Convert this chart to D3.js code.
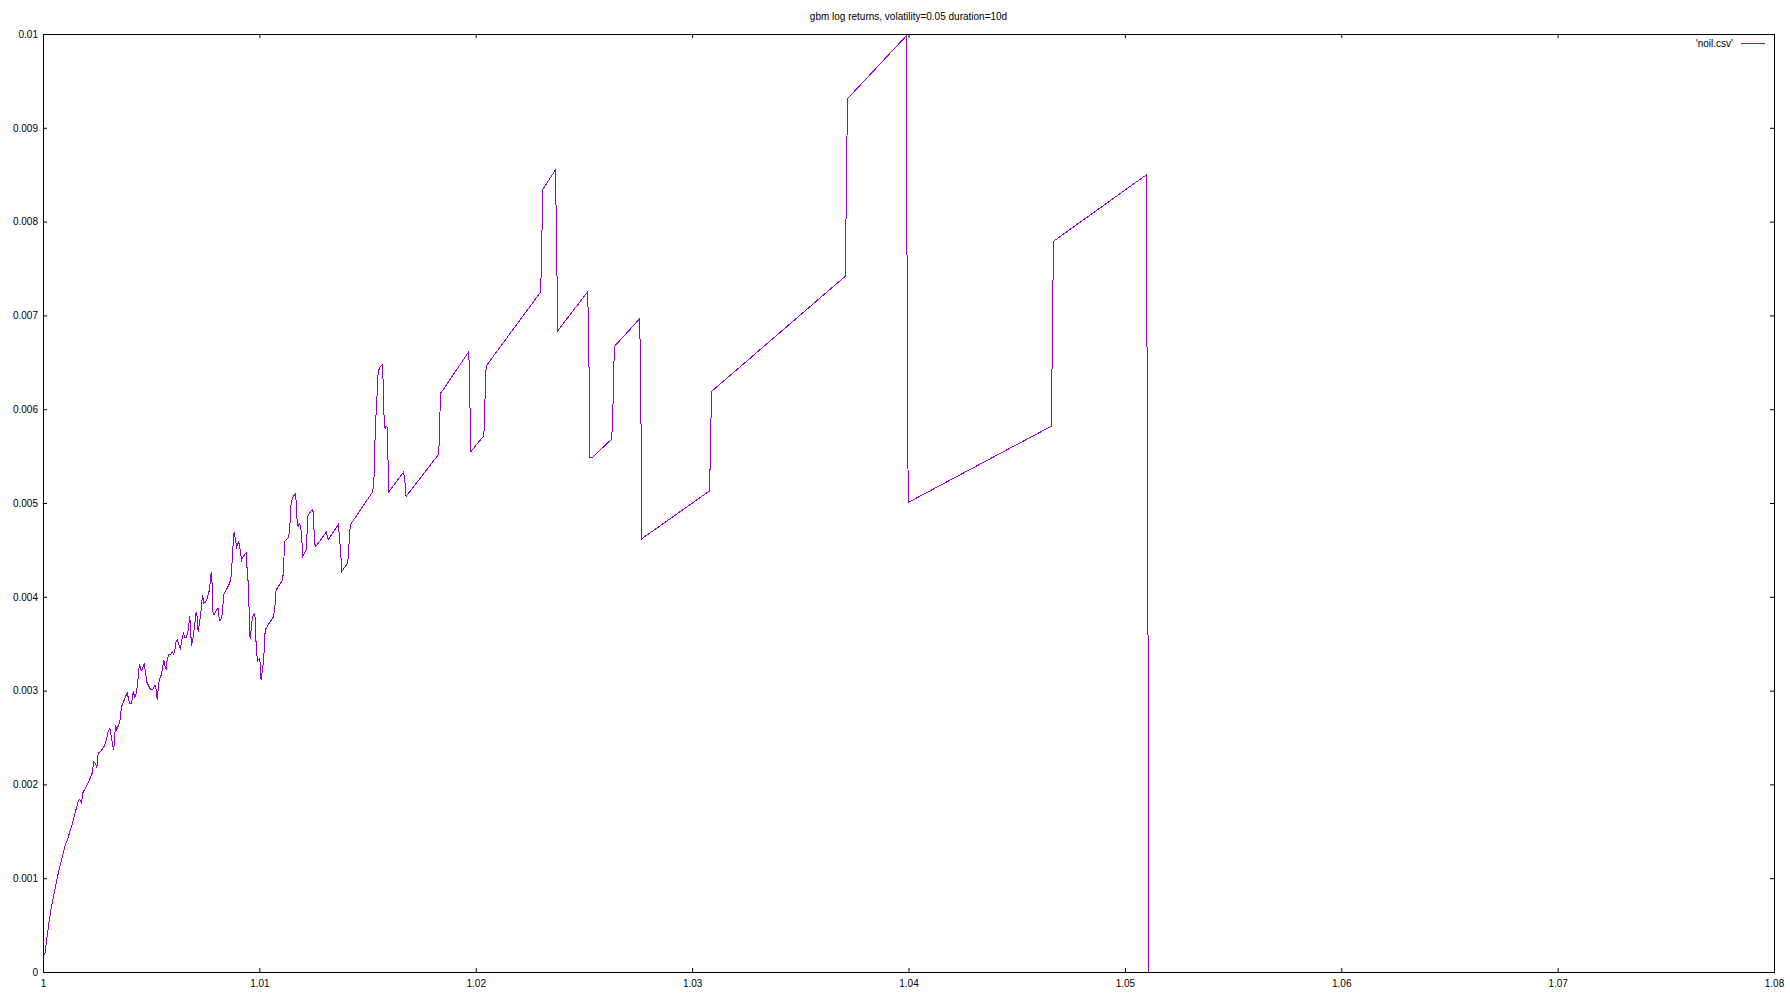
<!DOCTYPE html>
<html>
<head>
<meta charset="utf-8">
<script src="https://cdn.jsdelivr.net/npm/d3@7"></script>
<style>
  body { margin: 0; background: #fff; }
  svg { display: block; }
</style>
</head>
<body>
<script>
// chart data: price (x) and log return (y)
var xs = [1.00008, 1.00015, 1.00027, 1.00039, 1.00052, 1.00064, 1.00076, 1.00089, 1.00101, 1.00113,
  1.00126, 1.00138, 1.00150, 1.00163, 1.00169, 1.00178, 1.00184, 1.00200, 1.00215, 1.00227,
  1.00235, 1.00243, 1.00249, 1.00255, 1.00269, 1.00284, 1.00292, 1.00301, 1.00309, 1.00316,
  1.00322, 1.00327, 1.00335, 1.00341, 1.00347, 1.00355, 1.00363, 1.00372, 1.00384, 1.00389,
  1.00400, 1.00409, 1.00417, 1.00424, 1.00431, 1.00438, 1.00443, 1.00447, 1.00454, 1.00461,
  1.00468, 1.00474, 1.00480, 1.00497, 1.00507, 1.00518, 1.00523, 1.00528, 1.00532, 1.00538,
  1.00547, 1.00553, 1.00558, 1.00565, 1.00569, 1.00574, 1.00581, 1.00592, 1.00597, 1.00604,
  1.00609, 1.00615, 1.00621, 1.00631, 1.00635, 1.00643, 1.00649, 1.00655, 1.00662, 1.00669,
  1.00674, 1.00678, 1.00681, 1.00686, 1.00692, 1.00700, 1.00708, 1.00712, 1.00717, 1.00723,
  1.00729, 1.00737, 1.00743, 1.00749, 1.00757, 1.00765, 1.00769, 1.00777, 1.00782, 1.00786,
  1.00792, 1.00800, 1.00809, 1.00815, 1.00821, 1.00829, 1.00835, 1.00846, 1.00862, 1.00870,
  1.00877, 1.00883, 1.00889, 1.00895, 1.00905, 1.00911, 1.00918, 1.00926, 1.00934, 1.00939,
  1.00942, 1.00948, 1.00953, 1.00957, 1.00962, 1.00967, 1.00973, 1.00979, 1.00983, 1.00986,
  1.00992, 1.00999, 1.01004, 1.01008, 1.01014, 1.01020, 1.01027, 1.01046, 1.01066, 1.01073,
  1.01077, 1.01093, 1.01108, 1.01113, 1.01116, 1.01131, 1.01139, 1.01147, 1.01157, 1.01168,
  1.01173, 1.01179, 1.01185, 1.01191, 1.01198, 1.01200, 1.01216, 1.01225, 1.01231, 1.01244,
  1.01248, 1.01253, 1.01258, 1.01278, 1.01309, 1.01318, 1.01339, 1.01365, 1.01370, 1.01376,
  1.01381, 1.01408, 1.01413, 1.01416, 1.01421, 1.01524, 1.01530, 1.01536, 1.01544, 1.01549,
  1.01558, 1.01570, 1.01573, 1.01578, 1.01582, 1.01586, 1.01590, 1.01593, 1.01598, 1.01666,
  1.01672, 1.01678, 1.01829, 1.01832, 1.01837, 1.01847, 1.01967, 1.01971, 1.01974, 1.01978,
  1.02035, 1.02040, 1.02043, 1.02048, 1.02300, 1.02305, 1.02309, 1.02368, 1.02373, 1.02377,
  1.02380, 1.02517, 1.02520, 1.02525, 1.02528, 1.02536, 1.02628, 1.02633, 1.02637, 1.02641,
  1.02756, 1.02761, 1.02765, 1.02768, 1.03081, 1.03085, 1.03090, 1.03709, 1.03712, 1.03718,
  1.03990, 1.03993, 1.03997, 1.04002, 1.04661, 1.04664, 1.04670, 1.05100, 1.05103, 1.05108,
  1.05110];

var ys = [0.00018, 0.00031, 0.00052, 0.00070, 0.00084, 0.00098, 0.00111, 0.00123, 0.00134, 0.00141,
  0.00151, 0.00160, 0.00171, 0.00182, 0.00184, 0.00180, 0.00191, 0.00198, 0.00205, 0.00212,
  0.00224, 0.00222, 0.00218, 0.00233, 0.00236, 0.00241, 0.00247, 0.00256, 0.00260, 0.00251,
  0.00242, 0.00237, 0.00263, 0.00258, 0.00262, 0.00267, 0.00283, 0.00288, 0.00295, 0.00298,
  0.00286, 0.00286, 0.00299, 0.00293, 0.00297, 0.00309, 0.00323, 0.00328, 0.00321, 0.00324,
  0.00329, 0.00319, 0.00309, 0.00301, 0.00301, 0.00306, 0.00301, 0.00290, 0.00301, 0.00312,
  0.00317, 0.00324, 0.00333, 0.00325, 0.00323, 0.00333, 0.00338, 0.00339, 0.00342, 0.00339,
  0.00343, 0.00352, 0.00354, 0.00347, 0.00345, 0.00356, 0.00361, 0.00357, 0.00357, 0.00362,
  0.00370, 0.00380, 0.00370, 0.00348, 0.00354, 0.00368, 0.00384, 0.00379, 0.00363, 0.00372,
  0.00381, 0.00402, 0.00393, 0.00394, 0.00397, 0.00404, 0.00407, 0.00426, 0.00414, 0.00382,
  0.00381, 0.00385, 0.00388, 0.00375, 0.00375, 0.00382, 0.00402, 0.00407, 0.00414, 0.00422,
  0.00450, 0.00469, 0.00462, 0.00453, 0.00459, 0.00450, 0.00439, 0.00443, 0.00446, 0.00447,
  0.00434, 0.00416, 0.00384, 0.00355, 0.00365, 0.00377, 0.00381, 0.00382, 0.00363, 0.00341,
  0.00332, 0.00334, 0.00329, 0.00311, 0.00322, 0.00333, 0.00365, 0.00372, 0.00379, 0.00393,
  0.00407, 0.00413, 0.00418, 0.00436, 0.00459, 0.00462, 0.00468, 0.00501, 0.00507, 0.00510,
  0.00484, 0.00475, 0.00478, 0.00475, 0.00455, 0.00443, 0.00450, 0.00487, 0.00489, 0.00493,
  0.00491, 0.00469, 0.00453, 0.00459, 0.00469, 0.00461, 0.00468, 0.00477, 0.00464, 0.00446,
  0.00427, 0.00436, 0.00450, 0.00466, 0.00477, 0.00512, 0.00528, 0.00581, 0.00615, 0.00640,
  0.00645, 0.00648, 0.00615, 0.00581, 0.00580, 0.00582, 0.00581, 0.00560, 0.00512, 0.00533,
  0.00525, 0.00507, 0.00552, 0.00572, 0.00617, 0.00620, 0.00661, 0.00642, 0.00594, 0.00555,
  0.00571, 0.00580, 0.00613, 0.00646, 0.00725, 0.00772, 0.00834, 0.00855, 0.00791, 0.00715,
  0.00684, 0.00725, 0.00700, 0.00620, 0.00548, 0.00548, 0.00568, 0.00590, 0.00635, 0.00667,
  0.00696, 0.00663, 0.00549, 0.00462, 0.00513, 0.00567, 0.00619, 0.00742, 0.00823, 0.00931,
  0.00998, 0.00770, 0.00542, 0.00501, 0.00582, 0.00663, 0.00779, 0.00850, 0.00610, 0.00290,
  0];

var xTicks = [1, 1.01, 1.02, 1.03, 1.04, 1.05, 1.06, 1.07, 1.08];
var yTicks = [0, 0.001, 0.002, 0.003, 0.004, 0.005, 0.006, 0.007, 0.008, 0.009, 0.01];

var titleText = "gbm log returns, volatility=0.05 duration=10d";
var seriesName = "'noil.csv'";

// set the dimensions and margins of the graph
var totalW = 1790, totalH = 994;
var margin = {top: 34, right: 16, bottom: 22, left: 43},
    width = totalW - margin.left - margin.right,
    height = totalH - margin.top - margin.bottom;

var font = "'Liberation Sans', Arial, Helvetica, sans-serif";
var fontSize = 10;

var svg = d3.select("body").append("svg")
    .attr("width", totalW)
    .attr("height", totalH)
    .style("font-family", font);

var g = svg.append("g")
    .attr("transform", "translate(" + margin.left + "," + margin.top + ")");

var x = d3.scaleLinear().domain([1, 1.08]).range([0, width]);
var y = d3.scaleLinear().domain([0, 0.01]).range([height, 0]);

var fmt = d3.format("~g");

// axes, ticks pointing inward, mirrored on top/right
function styleAxis(sel) {
  sel.select(".domain").remove();
  sel.selectAll("line").attr("stroke", "#000");
  sel.selectAll("text").attr("fill", "#000").attr("font-size", fontSize).attr("font-family", font);
}

g.append("g")
    .attr("transform", "translate(0," + height + ")")
    .call(d3.axisBottom(x).tickValues(xTicks).tickFormat(fmt).tickSizeInner(-4).tickSizeOuter(0).tickPadding(8))
    .call(styleAxis);

g.append("g")
    .call(d3.axisTop(x).tickValues(xTicks).tickFormat("").tickSizeInner(-4).tickSizeOuter(0))
    .call(styleAxis);

g.append("g")
    .call(d3.axisLeft(y).tickValues(yTicks).tickFormat(fmt).tickSizeInner(-4).tickSizeOuter(0).tickPadding(5))
    .call(styleAxis);

g.append("g")
    .attr("transform", "translate(" + width + ",0)")
    .call(d3.axisRight(y).tickValues(yTicks).tickFormat("").tickSizeInner(-4).tickSizeOuter(0))
    .call(styleAxis);

// border
g.append("rect")
    .attr("x", 0.5)
    .attr("y", 0.5)
    .attr("width", width)
    .attr("height", height)
    .style("fill", "none")
    .style("stroke", "#000")
    .style("stroke-width", 1);

// the series
var data = xs.map(function(d, i) { return {x: d, y: ys[i]}; });

var line = d3.line()
    .x(function(d) { return x(d.x); })
    .y(function(d) { return y(d.y); });

g.append("defs").append("clipPath")
    .attr("id", "clip")
  .append("rect")
    .attr("width", width + 1)
    .attr("height", height + 1);

g.append("path")
    .datum(data)
    .attr("clip-path", "url(#clip)")
    .style("fill", "none")
    .style("stroke", "#9400d3")
    .style("stroke-width", 1)
    .style("shape-rendering", "crispEdges")
    .attr("d", line);

// title
svg.append("text")
    .attr("x", margin.left + width / 2)
    .attr("y", 20)
    .attr("font-size", fontSize)
    .style("text-anchor", "middle")
    .attr("fill", "#000")
    .text(titleText);

// legend
svg.append("text")
    .attr("x", 1733)
    .attr("y", 46.5)
    .attr("font-size", fontSize)
    .style("text-anchor", "end")
    .attr("fill", "#000")
    .text(seriesName);

svg.append("line")
    .attr("x1", 1741)
    .attr("x2", 1765)
    .attr("y1", 43.5)
    .attr("y2", 43.5)
    .style("stroke", "#9400d3")
    .style("stroke-width", 1);
</script>
</body>
</html>
